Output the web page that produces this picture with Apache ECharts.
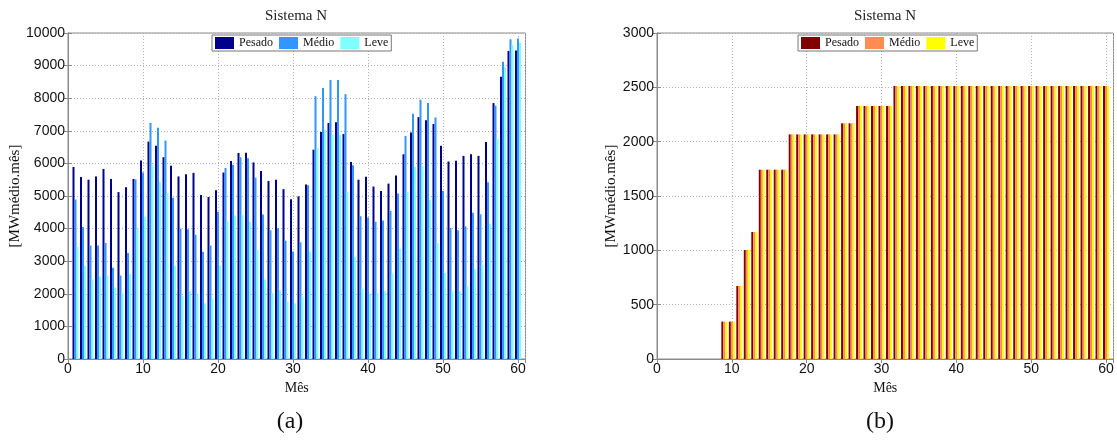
<!DOCTYPE html>
<html>
<head>
<meta charset="utf-8">
<script src="https://cdn.jsdelivr.net/npm/echarts@6/dist/echarts.min.js"></script>
<style>
html,body{margin:0;padding:0;background:#fff;}
#chart{width:1117px;height:442px;}
</style>
</head>
<body>
<div id="chart"></div>
<script>
// ---- data ----
const months = [1,2,3,4,5,6,7,8,9,10,11,12,13,14,15,16,17,18,19,20,21,22,23,24,25,26,27,28,29,30,
                31,32,33,34,35,36,37,38,39,40,41,42,43,44,45,46,47,48,49,50,51,52,53,54,55,56,57,58,59,60];
const xTicks = [0,10,20,30,40,50,60];
const yTicksA = [0,1000,2000,3000,4000,5000,6000,7000,8000,9000,10000];
const yTicksB = [0,500,1000,1500,2000,2500,3000];
const seriesNames = ['Pesado','Médio','Leve'];

// (a) Sistema N
const pesadoA = [5890,5580,5500,5600,5830,5520,5120,5270,5520,6090,
                 6670,6540,6190,5930,5600,5670,5710,5030,4970,5180,
                 5720,6070,6320,6330,6030,5770,5460,5500,5210,4900,
                 4990,5350,6420,6960,7240,7260,6900,6040,5500,5590,
                 5290,5150,5380,5630,6280,6950,7420,7320,7210,6540,
                 6060,6080,6230,6280,6230,6660,7850,8660,9450,9460];
const medioA  = [4890,4050,3480,3480,3560,2800,2560,3250,5510,5720,
                 7240,7090,6700,4950,4000,3980,3810,3290,3480,4520,
                 5860,5960,6190,6160,5560,4430,3950,4010,3630,3300,
                 3580,5330,8060,8310,8560,8560,8120,5940,4380,4340,
                 4210,4250,4540,5080,6840,7520,7950,7850,7410,5150,
                 4020,3950,4070,4490,4440,5420,7770,9120,9810,9830];
const leveA   = [3440,2860,2450,2530,2560,2190,2020,2610,3990,4360,
                 5940,5440,5090,2860,1940,2080,1960,1700,1860,2870,
                 4230,4400,4430,4200,3350,2430,2020,2110,1760,1700,
                 1920,3300,6470,7030,6880,6860,5120,3130,2150,2000,
                 2020,2080,2620,3380,5130,5890,5910,4880,3550,2640,
                 2080,2080,2230,2760,2890,4150,6760,8950,9630,9700];

// (b) Sistema N
const pesadoB = [0,0,0,0,0,0,0,0,344,344,
                 672,1003,1169,1742,1742,1742,1742,2067,2067,2067,
                 2067,2067,2067,2067,2169,2169,2328,2328,2328,2328,
                 2328,2512,2512,2512,2512,2512,2512,2512,2512,2512,
                 2512,2512,2512,2512,2512,2512,2512,2512,2512,2512,
                 2512,2512,2512,2512,2512,2512,2512,2512,2512,2512];
const medioB  = [0,0,0,0,0,0,0,0,344,344,
                 672,1003,1169,1742,1742,1742,1742,2067,2067,2067,
                 2067,2067,2067,2067,2169,2169,2328,2328,2328,2328,
                 2328,2512,2512,2512,2512,2512,2512,2512,2512,2512,
                 2512,2512,2512,2512,2512,2512,2512,2512,2512,2512,
                 2512,2512,2512,2512,2512,2512,2512,2512,2512,2512];
const leveB   = [0,0,0,0,0,0,0,0,344,344,
                 672,1003,1169,1742,1742,1742,1742,2067,2067,2067,
                 2067,2067,2067,2067,2169,2169,2328,2328,2328,2328,
                 2328,2512,2512,2512,2512,2512,2512,2512,2512,2512,
                 2512,2512,2512,2512,2512,2512,2512,2512,2512,2512,
                 2512,2512,2512,2512,2512,2512,2512,2512,2512,2512];

const colorsA = ['#00008f','#3296ff','#80ffff'];
const colorsB = ['#800000','#ff8c50','#ffff00'];

// ---- build ----
const SANS = 'Liberation Sans, Arial, sans-serif';
const SERIF = 'Liberation Serif, Times New Roman, serif';
const FRAME = '#8a8a8a';

function mainX(grid, name) {
  return {
    type:'value', gridIndex:grid, min:xTicks[0], max:61, interval:xTicks[1]-xTicks[0],
    axisLine:{show:true, onZero:false, lineStyle:{color:FRAME, width:1}},
    axisTick:{show:true, inside:true, length:4, lineStyle:{color:FRAME}},
    axisLabel:{margin:3, showMaxLabel:false, fontFamily:SANS, fontSize:14, color:'#111', formatter:v=>String(v)},
    splitLine:{show:true, lineStyle:{type:[1,2], color:'#b0b0b0', width:1}},
    name:name, nameLocation:'middle', nameGap:18,
    nameTextStyle:{fontFamily:SERIF, fontSize:14, color:'#111'}
  };
}
function topX(grid) {
  return {
    type:'value', gridIndex:grid, position:'top', min:0, max:61, interval:10,
    axisLine:{show:true, lineStyle:{color:FRAME}},
    axisTick:{show:true, inside:true, length:4, lineStyle:{color:FRAME}},
    axisLabel:{show:false}, splitLine:{show:false}
  };
}
function mainY(grid, ticks, gap) {
  return {
    type:'value', gridIndex:grid, min:ticks[0], max:ticks[ticks.length-1], interval:ticks[1]-ticks[0],
    axisLine:{show:true, lineStyle:{color:FRAME, width:1}},
    axisTick:{show:true, inside:true, length:4, lineStyle:{color:FRAME}},
    axisLabel:{margin:3, fontFamily:SANS, fontSize:14, color:'#111', formatter:v=>String(v)},
    splitLine:{show:true, lineStyle:{type:[1,2], color:'#b0b0b0', width:1}},
    name:'[MWmédio.mês]', nameLocation:'middle', nameGap:gap, nameRotate:90,
    nameTextStyle:{fontFamily:SERIF, fontSize:15, color:'#111'}
  };
}
function rightY(grid, ticks) {
  return {
    type:'value', gridIndex:grid, position:'right', min:ticks[0], max:ticks[ticks.length-1], interval:ticks[1]-ticks[0],
    axisLine:{show:true, lineStyle:{color:FRAME}},
    axisTick:{show:true, inside:true, length:4, lineStyle:{color:FRAME}},
    axisLabel:{show:false}, splitLine:{show:false}
  };
}
function barSeries(name, vals, color, xi, yi) {
  return {
    type:'bar', name:name, xAxisIndex:xi, yAxisIndex:yi,
    data: months.map((m,i)=>[m, vals[i]]),
    barWidth:2, barGap:'0%',
    itemStyle:{color:color},
    emphasis:{disabled:true}, animation:false
  };
}
function legendCfg(left, names, fmt) {
  return {
    left:left, top:35, orient:'horizontal', icon:'rect',
    itemWidth:19, itemHeight:12, itemGap:6, padding:[2,3,2,3],
    borderColor:'#777', borderWidth:1, backgroundColor:'#fff',
    textStyle:{fontFamily:SERIF, fontSize:12, color:'#111'},
    data:names, formatter:fmt, selectedMode:false
  };
}

const namesB = seriesNames.map(n => n + ' (b)');

const option = {
  backgroundColor:'#fff',
  animation:false,
  grid:[
    {left:68, top:33, width:457.5, height:326, show:true, borderColor:FRAME, borderWidth:1, backgroundColor:'#fff'},
    {left:657, top:33, width:456.5, height:326, show:true, borderColor:FRAME, borderWidth:1, backgroundColor:'#fff'}
  ],
  xAxis:[ mainX(0,'Mês'), topX(0), mainX(1,'Mês'), topX(1) ],
  yAxis:[ mainY(0, yTicksA, 42), rightY(0, yTicksA), mainY(1, yTicksB, 34), rightY(1, yTicksB) ],
  legend:[
    legendCfg(212, seriesNames, n=>n),
    legendCfg(798, namesB, n=>n.replace(' (b)',''))
  ],
  graphic:[
    {type:'text', style:{text:'Sistema N', x:296, y:16, textAlign:'center', textVerticalAlign:'middle', font:'15px '+SERIF, fill:'#222'}},
    {type:'text', style:{text:'Sistema N', x:885, y:16, textAlign:'center', textVerticalAlign:'middle', font:'15px '+SERIF, fill:'#222'}},
    {type:'text', style:{text:'(a)', x:290, y:422, textAlign:'center', textVerticalAlign:'middle', font:'24px '+SERIF, fill:'#111'}},
    {type:'text', style:{text:'(b)', x:880, y:422, textAlign:'center', textVerticalAlign:'middle', font:'24px '+SERIF, fill:'#111'}}
  ],
  series:[
    barSeries(seriesNames[0], pesadoA, colorsA[0], 0, 0),
    barSeries(seriesNames[1], medioA,  colorsA[1], 0, 0),
    barSeries(seriesNames[2], leveA,   colorsA[2], 0, 0),
    barSeries(namesB[0], pesadoB, colorsB[0], 2, 2),
    barSeries(namesB[1], medioB,  colorsB[1], 2, 2),
    barSeries(namesB[2], leveB,   colorsB[2], 2, 2)
  ]
};

const chart = echarts.init(document.getElementById('chart'), null, {renderer:'canvas'});
chart.setOption(option);
</script>
</body>
</html>
